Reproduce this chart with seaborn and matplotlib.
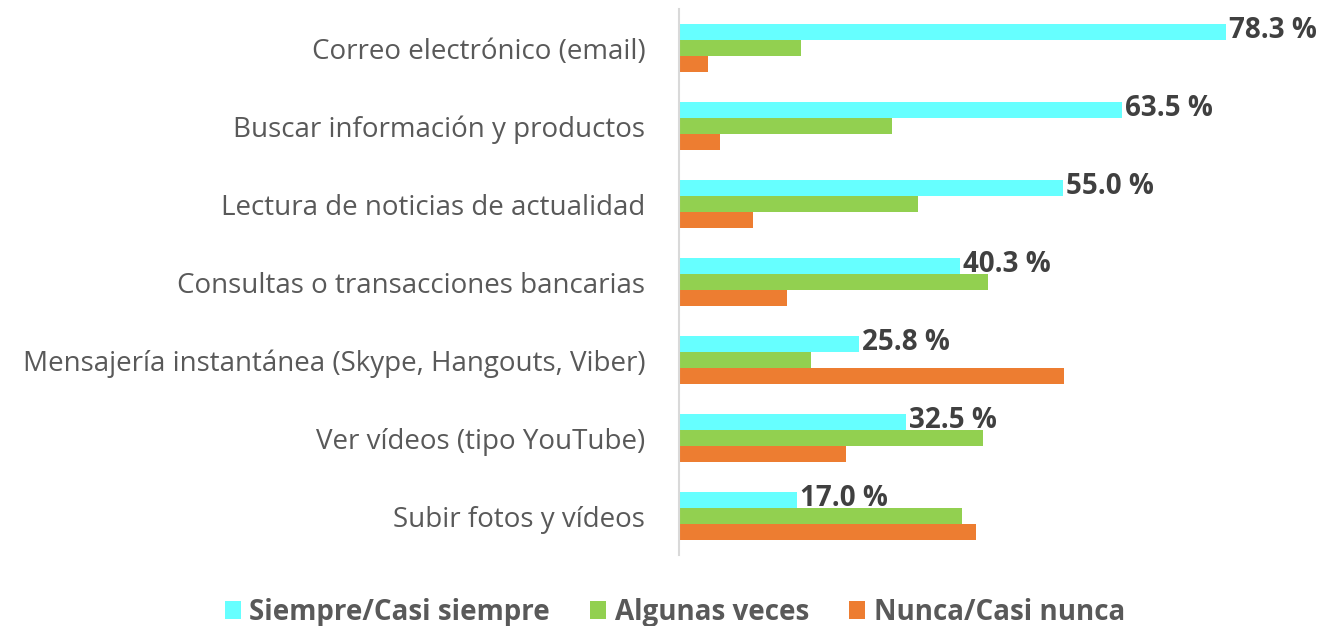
import seaborn as sns
import matplotlib.pyplot as plt
import pandas as pd

categorias = ['Correo electrónico (email)',
              'Buscar información y productos',
              'Lectura de noticias de actualidad',
              'Consultas o transacciones bancarias',
              'Mensajería instantánea (Skype, Hangouts, Viber)',
              'Ver vídeos (tipo YouTube)',
              'Subir fotos y vídeos']
series = ['Siempre/Casi siempre', 'Algunas veces', 'Nunca/Casi nunca']
siempre = [78.3, 63.5, 55.0, 40.3, 25.8, 32.5, 17.0]
algunas = [17.5, 30.5, 34.2, 44.2, 18.9, 43.5, 40.5]
nunca = [4.2, 5.9, 10.6, 15.5, 55.2, 23.9, 42.5]
colores = ['#66FFFF', '#92D050', '#ED7D31']

df = pd.DataFrame({'categoria': categorias * 3,
                   'serie': [s for s in series for _ in categorias],
                   'valor': siempre + algunas + nunca})

sns.set_style('white')
plt.rcParams['font.family'] = ['Open Sans', 'DejaVu Sans']

fig = plt.figure(figsize=(13.23, 6.26), dpi=100)
ax = fig.add_axes([0.513, 0.1134, 0.47, 0.872])
sns.barplot(data=df, x='valor', y='categoria', hue='serie',
            hue_order=series, order=categorias, palette=colores,
            orient='h', width=0.615, saturation=1, linewidth=0, ax=ax)

ax.set_xlim(0, 89)
ax.set_xlabel('')
ax.set_ylabel('')
ax.set_xticks([])
for s in ['top', 'right', 'bottom']:
    ax.spines[s].set_visible(False)
ax.spines['left'].set_color('#d9d9d9')
ax.spines['left'].set_linewidth(1.5)
ax.tick_params(axis='y', length=0, pad=24, labelsize=20, labelcolor='#595959')

# etiquetas solo en la primera serie
for bar, v in zip(ax.containers[0], siempre):
    ax.annotate(f'{v:.1f} %', (bar.get_width(), bar.get_y() + bar.get_height() / 2),
                xytext=(2, 1), textcoords='offset points', va='center', ha='left',
                fontsize=20, fontweight='bold', color='#404040', annotation_clip=False)

handles, labels = ax.get_legend_handles_labels()
ax.get_legend().remove()
fig.legend(handles, labels, loc='center', bbox_to_anchor=(0.51, 0.022), ncol=3,
           frameon=False, prop={'size': 20, 'weight': 'bold'}, labelcolor='#595959',
           handlelength=0.58, handleheight=0.58, handletextpad=0.3, columnspacing=1.45,
           borderpad=0, borderaxespad=0)

fig.savefig('out.png', dpi=100)
